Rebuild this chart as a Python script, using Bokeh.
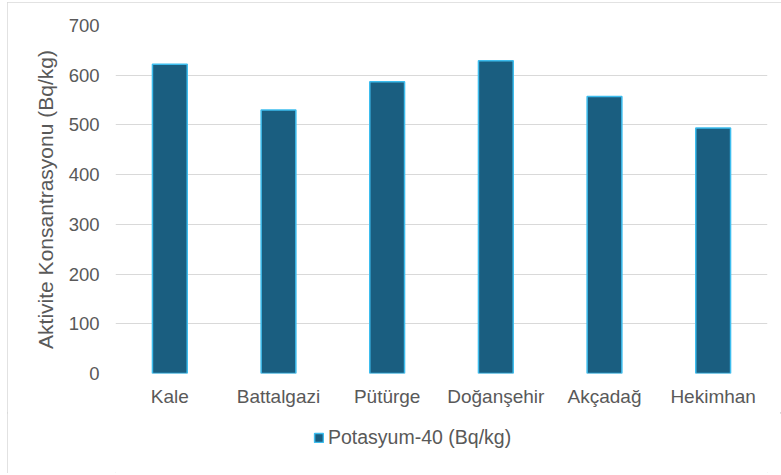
from bokeh.plotting import figure
from bokeh.layouts import column
from bokeh.models import ColumnDataSource, Legend, LegendItem, FactorRange, Range1d, FixedTicker
from bokeh.embed import file_html
from bokeh.resources import INLINE

categories = ["Kale", "Battalgazi", "Pütürge", "Doğanşehir", "Akçadağ", "Hekimhan"]
potasyum = [622, 530, 587, 629, 557, 494]
series_name = "Potasyum-40 (Bq/kg)"
y_ticks = [0, 100, 200, 300, 400, 500, 600, 700]
y_title = "Aktivite Konsantrasyonu (Bq/kg)"

FONT = "Liberation Sans"
TXT = "#595959"
BAR_FILL = "#1A5E80"
BAR_LINE = "#3DBDEE"

src = ColumnDataSource(dict(cat=categories, val=potasyum))

# main chart
p = figure(frame_width=652, frame_height=347, x_range=FactorRange(*categories, range_padding=0),
           y_range=Range1d(0, 700), output_backend="svg", toolbar_location=None,
           min_border_left=108, min_border_right=14, min_border_top=23, min_border_bottom=40)
p.outline_line_color = None
p.background_fill_color = "white"
p.border_fill_color = "white"

r = p.vbar(x="cat", top="val", width=0.32, source=src,
           fill_color=BAR_FILL, line_color=BAR_LINE, line_width=1.5)

p.xgrid.grid_line_color = None
p.ygrid.grid_line_color = "#d9d9d9"
p.ygrid.grid_line_width = 1
p.yaxis.ticker = FixedTicker(ticks=y_ticks)

for ax in (p.xaxis[0], p.yaxis[0]):
    ax.axis_line_color = None
    ax.major_tick_line_color = None
    ax.minor_tick_line_color = None
    ax.major_tick_out = 0
    ax.major_tick_in = 0
    ax.major_label_text_font = FONT
    ax.major_label_text_color = TXT

p.xaxis.major_label_text_font_size = "19px"
p.yaxis.major_label_text_font_size = "18.5px"
p.xaxis.major_label_standoff = 12
p.yaxis.major_label_standoff = 16
p.yaxis.axis_label = y_title
p.yaxis.axis_label_text_font = FONT
p.yaxis.axis_label_text_font_size = "21px"
p.yaxis.axis_label_text_font_style = "normal"
p.yaxis.axis_label_text_color = TXT
p.yaxis.axis_label_standoff = 9

# legend strip below the chart
q = figure(width=774, height=60, x_range=FactorRange(*categories, range_padding=0),
           y_range=Range1d(1000, 2000), output_backend="svg", toolbar_location=None,
           x_axis_location=None, y_axis_location=None, min_border=0)
q.grid.visible = False
q.outline_line_color = None
q.background_fill_color = "white"
q.border_fill_color = "white"
rq = q.vbar(x="cat", top="val", width=0.32, source=src,
            fill_color=BAR_FILL, line_color=BAR_LINE, line_width=1.5)
rq.visible = False

legend = Legend(items=[LegendItem(label=series_name, renderers=[rq])],
                location=(198, 24), orientation="horizontal",
                padding=0, margin=0, spacing=0,
                glyph_width=11, glyph_height=11, label_standoff=4,
                label_text_font=FONT, label_text_font_size="19.5px",
                label_text_color=TXT, border_line_color=None,
                background_fill_alpha=0, inactive_fill_alpha=0)
q.add_layout(legend, "center")

layout = column(p, q, spacing=0)
layout.styles = {"outline": "1px solid #d9d9d9", "outline-offset": "-1px",
                 "margin-left": "7px", "margin-top": "2px",
                 "width": "774px", "height": "471px"}

open("out.html", "w").write(file_html(layout, INLINE))
